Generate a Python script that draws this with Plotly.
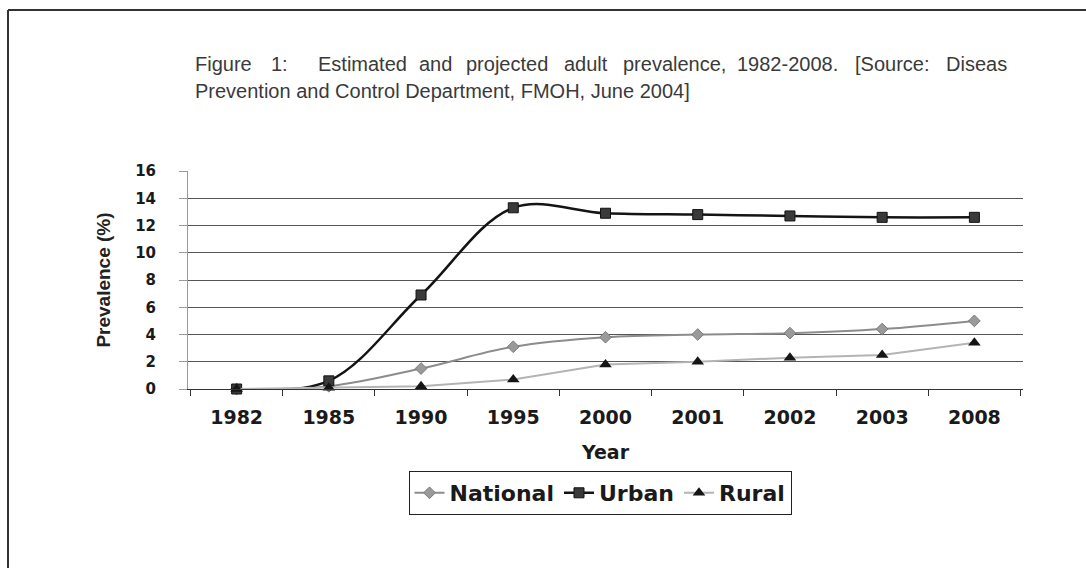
import plotly.graph_objects as go

# Prevalence series (%), by year
years = ["1982", "1985", "1990", "1995", "2000", "2001", "2002", "2003", "2008"]
national = [0.0, 0.2, 1.5, 3.1, 3.8, 4.0, 4.1, 4.4, 5.0]
urban = [0.0, 0.6, 6.9, 13.3, 12.9, 12.8, 12.7, 12.6, 12.6]
rural = [0.0, 0.1, 0.2, 0.7, 1.8, 2.0, 2.3, 2.5, 3.4]
y_ticks = [0, 2, 4, 6, 8, 10, 12, 14, 16]

title_line1 = ["Figure", "1:", "Estimated", "and", "projected", "adult",
               "prevalence,", "1982-2008.", "[Source:", "Diseas"]
title_line1_x = [193, 269, 316, 417, 464, 562, 621, 735, 853, 944]
title_line2 = "Prevention and Control Department, FMOH, June 2004]"

W, H = 1086, 568
L, R, T, B = 188, 63, 171, 179
PW, PH = W - L - R, H - T - B


def px(x):
    return (x - L) / PW


def py(y):
    return (H - B - y) / PH


tick_font = dict(family="DejaVu Sans", size=19, color="#1a1a1a", weight="bold")
title_font = dict(family="Liberation Sans, Arial", size=20, color="#3a3a3a")

fig = go.Figure()
fig.add_trace(go.Scatter(
    x=years, y=national, name="National", mode="lines+markers",
    line=dict(color="#8c8c8c", width=2, shape="spline"),
    marker=dict(symbol="diamond", size=9, color="#9a9a9a",
                line=dict(color="#7a7a7a", width=1)),
    cliponaxis=False,
))
fig.add_trace(go.Scatter(
    x=years, y=urban, name="Urban", mode="lines+markers",
    line=dict(color="#141414", width=2.5, shape="spline"),
    marker=dict(symbol="square", size=10, color="#3a3a3a",
                line=dict(color="#111111", width=1)),
    cliponaxis=False,
))
fig.add_trace(go.Scatter(
    x=years, y=rural, name="Rural", mode="lines+markers",
    line=dict(color="#b4b4b4", width=2),
    marker=dict(symbol="triangle-up", size=11, color="#151515"),
    cliponaxis=False,
))

annotations = []
for word, xw in zip(title_line1, title_line1_x):
    annotations.append(dict(
        text=word, x=px(xw), y=py(64), xref="paper", yref="paper",
        xanchor="left", yanchor="middle", showarrow=False, font=title_font,
    ))
annotations.append(dict(
    text=title_line2, x=px(193), y=py(91), xref="paper", yref="paper",
    xanchor="left", yanchor="middle", showarrow=False, font=title_font,
))

fig.update_layout(
    width=W, height=H,
    margin=dict(l=L, r=R, t=T, b=B, pad=0),
    paper_bgcolor="white", plot_bgcolor="white",
    showlegend=True,
    legend=dict(
        orientation="h", x=px(600), y=py(493), xanchor="center", yanchor="middle",
        bordercolor="#222222", borderwidth=1, bgcolor="white",
        font=dict(family="DejaVu Sans", size=22, color="#1a1a1a", weight="bold"),
        itemwidth=30, tracegroupgap=0,
    ),
    xaxis=dict(
        type="category", tickson="boundaries",
        showgrid=False, showline=True, linecolor="#333333", linewidth=1,
        ticks="outside", ticklen=6, tickcolor="#333333",
        tickfont=tick_font, ticklabelstandoff=11,
        title=dict(text="Year", font=tick_font, standoff=18),
    ),
    yaxis=dict(
        range=[0, 16], tickvals=y_ticks, showgrid=True,
        gridcolor="#555555", gridwidth=1,
        showline=True, linecolor="#9a9a9a", linewidth=1,
        ticks="outside", ticklen=8, tickcolor="#9a9a9a",
        tickfont=dict(family="DejaVu Sans", size=15, color="#1a1a1a", weight="bold"),
        ticklabelstandoff=20, zeroline=False,
        title=dict(text="Prevalence (%)",
                   font=dict(family="Liberation Sans, Arial", size=19,
                             color="#222222", weight="bold"),
                   standoff=19),
    ),
    annotations=annotations,
    shapes=[
        dict(type="line", xref="paper", yref="paper",
             x0=px(8), x1=px(1090), y0=py(10), y1=py(10),
             line=dict(color="#333333", width=2)),
        dict(type="line", xref="paper", yref="paper",
             x0=px(8), x1=px(8), y0=py(10), y1=py(572),
             line=dict(color="#333333", width=2)),
    ],
)

fig.write_html("out.html")
